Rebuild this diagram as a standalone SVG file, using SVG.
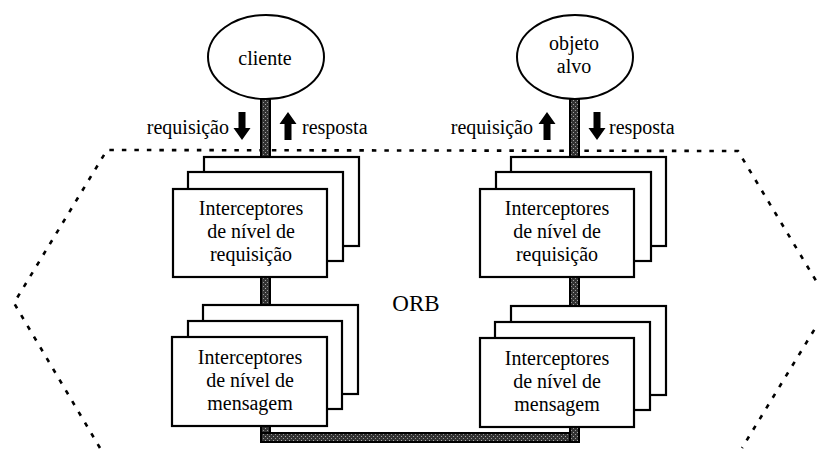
<svg xmlns="http://www.w3.org/2000/svg" width="817" height="456" viewBox="0 0 817 456">
  <style>
    .t { font-family: "Liberation Serif", "Times New Roman", serif; font-size: 20px; fill: #000; text-anchor: middle; }
    .lbl { font-family: "Liberation Serif", "Times New Roman", serif; font-size: 20px; fill: #000; }
    .box { fill: #fff; stroke: #000; stroke-width: 2.2; }
    .oval { fill: #fff; stroke: #000; stroke-width: 2; }
    .bus { fill: url(#grain); stroke: #000; stroke-width: 2; }
    .arrow { fill: #000; }
    .orb { fill: none; stroke: #000; stroke-width: 2.6; stroke-dasharray: 4.5 8; }
  </style>
  <defs>
    <pattern id="grain" width="4" height="4" patternUnits="userSpaceOnUse">
      <rect width="4" height="4" fill="#333"/>
      <rect x="1" y="0" width="1" height="1" fill="#aaa"/>
      <rect x="3" y="2" width="1" height="1" fill="#999"/>
    </pattern>
    <polygon id="down" points="-3.5,0 3.5,0 3.5,16 8.5,16 0,28 -8.5,16 -3.5,16"/>
    <polygon id="up" points="-3.5,28 3.5,28 3.5,12 8.5,12 0,0 -8.5,12 -3.5,12"/>
  </defs>

  <!-- ORB boundary -->
  <path class="orb" d="M100,448 L14,303 L107,150 L738,151 L830,304 L742,448"/>

  <!-- connectors: the two vertical paths and the bottom link -->
  <g id="connectors">
    <rect class="bus" x="261" y="99" width="9" height="60"/>
    <rect class="bus" x="261" y="275" width="9" height="32"/>
    <rect class="bus" x="261" y="424" width="9" height="18"/>
    <rect class="bus" x="261" y="433" width="318" height="9"/>
    <rect class="bus" x="570" y="99" width="9" height="60"/>
    <rect class="bus" x="570" y="275" width="9" height="33"/>
    <rect class="bus" x="570" y="425" width="9" height="17"/>
    <use href="#down" class="arrow" x="242" y="112"/>
    <use href="#up" class="arrow" x="288" y="112"/>
    <use href="#up" class="arrow" x="547" y="112"/>
    <use href="#down" class="arrow" x="597" y="112"/>
    <text class="lbl" x="229" y="134" text-anchor="end">requisição</text>
    <text class="lbl" x="302" y="134">resposta</text>
    <text class="lbl" x="533" y="134" text-anchor="end">requisição</text>
    <text class="lbl" x="609" y="134">resposta</text>
  </g>

  <g id="cliente">
    <ellipse class="oval" cx="266" cy="57" rx="58" ry="42"/>
    <text class="t" x="265" y="65">cliente</text>
  </g>

  <g id="objeto-alvo">
    <ellipse class="oval" cx="575" cy="57" rx="58" ry="42"/>
    <text class="t" x="574" y="50">objeto</text>
    <text class="t" x="574" y="73">alvo</text>
  </g>

  <g id="cliente-requisicao">
    <rect class="box" x="204" y="157" width="155" height="89"/>
    <rect class="box" x="188" y="172" width="155" height="89"/>
    <rect class="box" x="173" y="189" width="154" height="88"/>
    <text class="t" x="251" y="215">Interceptores</text>
    <text class="t" x="251" y="238">de nível de</text>
    <text class="t" x="251" y="261">requisição</text>
  </g>

  <g id="cliente-mensagem">
    <rect class="box" x="203" y="305" width="155" height="89"/>
    <rect class="box" x="188" y="321" width="154" height="88"/>
    <rect class="box" x="172" y="337" width="155" height="89"/>
    <text class="t" x="250" y="364">Interceptores</text>
    <text class="t" x="250" y="387">de nível de</text>
    <text class="t" x="250" y="410">mensagem</text>
  </g>

  <g id="alvo-requisicao">
    <rect class="box" x="511" y="157" width="155" height="89"/>
    <rect class="box" x="496" y="172" width="155" height="89"/>
    <rect class="box" x="480" y="189" width="154" height="88"/>
    <text class="t" x="557" y="215">Interceptores</text>
    <text class="t" x="557" y="238">de nível de</text>
    <text class="t" x="557" y="261">requisição</text>
  </g>

  <g id="alvo-mensagem">
    <rect class="box" x="511" y="306" width="155" height="89"/>
    <rect class="box" x="495" y="322" width="155" height="88"/>
    <rect class="box" x="480" y="338" width="154" height="89"/>
    <text class="t" x="557" y="365">Interceptores</text>
    <text class="t" x="557" y="388">de nível de</text>
    <text class="t" x="557" y="411">mensagem</text>
  </g>

  <text id="orb" class="t" x="416" y="311" style="font-size:23px">ORB</text>
</svg>
